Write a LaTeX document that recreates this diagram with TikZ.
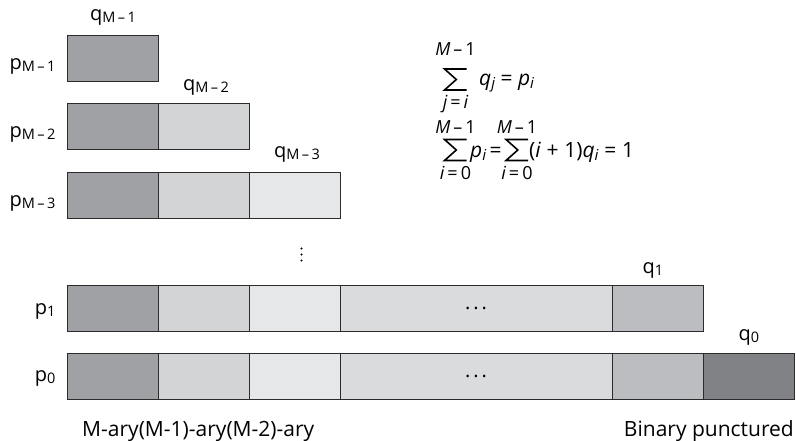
\documentclass[tikz,border=0pt]{standalone}
\usepackage{fontspec}
\setmainfont{Open Sans}
\definecolor{cA}{HTML}{A0A1A5}
\definecolor{cB}{HTML}{D3D4D6}
\definecolor{cC}{HTML}{E6E7E8}
\definecolor{cD}{HTML}{DADBDC}
\definecolor{cE}{HTML}{BCBDC0}
\definecolor{cF}{HTML}{808285}
\definecolor{segline}{HTML}{2B2B2B}
\newcommand\lbl{\fontsize{20}{22}\selectfont}
\newcommand\botlbl{\fontsize{21}{23}\selectfont}
\newcommand\eqf{\fontsize{21}{23}\selectfont}
\newcommand\limf{\fontsize{18}{20}\selectfont}
\newcommand\subs[1]{\raisebox{-2.5pt}{\fontsize{14.5}{14.5}\selectfont #1}}
\newcommand\esub[1]{\raisebox{-3.5pt}{\fontsize{15}{15}\selectfont\itshape #1}}
\newcommand\mydots{.\hspace{3pt}.\hspace{3pt}.}
\begin{document}
\begin{tikzpicture}[x=1pt,y=-1pt,
  seg/.style={draw=segline, line width=1pt, inner sep=0pt, outer sep=0pt,
    minimum height=46pt, minimum width=91pt, anchor=north west, font=\lbl},
  wide/.style={minimum width=272pt},
  lab/.style={font=\lbl, inner sep=0pt},
  blab/.style={font=\botlbl, inner sep=0pt},
  lim/.style={font=\limf, inner sep=0pt, anchor=base},
  eqt/.style={font=\eqf, inner sep=0pt, anchor=base west},
  sig/.pic={\draw[line width=1.6pt, miter limit=10] (11,-10.5) -- (-11,-10.5) -- (0.8,0) -- (-11,10.5) -- (11,10.5);}
]
\useasboundingbox (0,0) rectangle (796,440);
\fill[white] (0,0) rectangle (796,440);

% row p_{M-1}
\node[seg, fill=cA] (r1c1) at (67,35) {};
% row p_{M-2}
\node[seg, fill=cA] (r2c1) at (67,103) {};
\node[seg, fill=cB] (r2c2) at (158,103) {};
% row p_{M-3}
\node[seg, fill=cA] (r3c1) at (67,172) {};
\node[seg, fill=cB] (r3c2) at (158,172) {};
\node[seg, fill=cC] (r3c3) at (249,172) {};
% row p_1
\node[seg, fill=cA] (pa1) at (67,285) {};
\node[seg, fill=cB] (pa2) at (158,285) {};
\node[seg, fill=cC] (pa3) at (249,285) {};
\node[seg, wide, fill=cD] (pa4) at (340,285) {\mydots};
\node[seg, fill=cE] (pa5) at (612,285) {};
% row p_0
\node[seg, fill=cA] (pb1) at (67,353) {};
\node[seg, fill=cB] (pb2) at (158,353) {};
\node[seg, fill=cC] (pb3) at (249,353) {};
\node[seg, wide, fill=cD] (pb4) at (340,353) {\mydots};
\node[seg, fill=cE] (pb5) at (612,353) {};
\node[seg, fill=cF] (pb6) at (703,353) {};

% p labels
\node[lab, anchor=base east] (lp1) at (55.5,69) {p\subs{M\,–\,1}};
\node[lab, anchor=base east] (lp2) at (55.5,137) {p\subs{M\,–\,2}};
\node[lab, anchor=base east] (lp3) at (55.5,206) {p\subs{M\,–\,3}};
\node[lab, anchor=base east] (lpa) at (55.5,314) {p\subs{1}};
\node[lab, anchor=base east] (lpb) at (55.5,381) {p\subs{0}};

% q labels
\node[lab, anchor=base] (lq1) at (113,20) {q\subs{M\,–\,1}};
\node[lab, anchor=base] (lq2) at (206,90) {q\subs{M\,–\,2}};
\node[lab, anchor=base] (lq3) at (297,157) {q\subs{M\,–\,3}};
\node[lab, anchor=base] (lqa) at (653,273) {q\subs{1}};
\node[lab, anchor=base] (lqb) at (749,340) {q\subs{0}};

% vertical dots
\foreach \yy in {248.5,254.5,260.5} \fill[black] (301.5,\yy) circle (1.2pt);

% bottom labels
\node[blab, anchor=base west] (bl) at (82,436) {M-ary(M-1)-ary(M-2)-ary};
\node[blab, anchor=base east] (br) at (794,436) {Binary punctured};

% equation 1
\pic at (455.5,79.5) {sig};
\node[lim] (e1t) at (455.5,55) {\itshape M\upshape\,–\,1};
\node[lim] (e1b) at (455.5,108) {\itshape j\,\upshape=\,\itshape i};
\node[eqt] (e1r) at (479,85) {\itshape q\esub{j}\upshape\ =\ \itshape p\esub{i}};

% equation 2
\pic at (455.5,150) {sig};
\node[lim] (e2t) at (455.5,133) {\itshape M\upshape\,–\,1};
\node[lim] (e2b) at (455.5,179) {\itshape i\,\upshape=\,0};
\node[eqt] (e2r) at (470,157) {\itshape p\esub{i}\upshape\,=};
\pic at (517,150) {sig};
\node[lim] (e3t) at (517,133) {\itshape M\upshape\,–\,1};
\node[lim] (e3b) at (517,179) {\itshape i\,\upshape=\,0};
\node[eqt] (e3r) at (529,157) {\upshape(\itshape i\upshape\;+\;1)\itshape q\esub{i}\upshape\;=\;1};
\end{tikzpicture}
\end{document}
